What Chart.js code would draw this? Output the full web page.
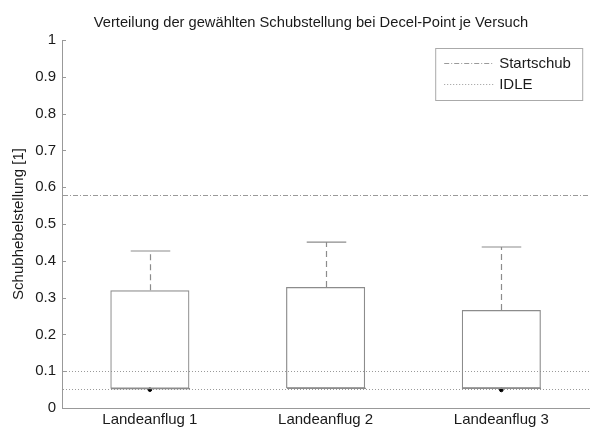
<!DOCTYPE html>
<html lang="de">
<head>
<meta charset="UTF-8">
<title>Schubstellung bei Decel-Point</title>
<script src="https://cdn.jsdelivr.net/npm/chart.js"></script>
<style>
  body { margin: 0; background: #fff; }
</style>
</head>
<body>
<canvas id="boxChart" width="592" height="428"></canvas>
<script>
// Kennwerte je Landeanflug (Schubhebelstellung, 0..1)
const versuche = ["Landeanflug 1", "Landeanflug 2", "Landeanflug 3"];
const minWert = [0.0525, 0.0534, 0.0534];
const q1 = [0.0525, 0.0534, 0.0534];
const median = [0.0525, 0.0534, 0.0534];
const q3 = [0.320, 0.329, 0.266];
const maxWert = [0.4266, 0.451, 0.4375];
const ausreisser = [[0.0497], [], [0.049]];

// Referenzlinien
const startschub = 0.578;
const idle = [0.0515, 0.1];

const titel = "Verteilung der gewählten Schubstellung bei Decel-Point je Versuch";
const yTitel = "Schubhebelstellung [1]";

const FONT = '"Liberation Sans", Arial, sans-serif';
const GRAU = "#8c8c8c";
const TEXT = "#1a1a1a";

const ausreisserPunkte = [];
ausreisser.forEach((werte, i) => werte.forEach(v => ausreisserPunkte.push({ x: versuche[i], y: v })));

// horizontale Linien für Startschub und IDLE, quer über die Achsenfläche
const referenzLinien = {
  id: "referenzLinien",
  beforeDatasetsDraw(chart) {
    const { ctx, chartArea: a, scales: { y } } = chart;
    ctx.save();
    ctx.strokeStyle = "#9a9a9a";
    ctx.lineWidth = 1;
    const linie = (v, dash) => {
      const py = Math.round(y.getPixelForValue(v)) + 0.5;
      ctx.setLineDash(dash);
      ctx.beginPath();
      ctx.moveTo(a.left + 1, py);
      ctx.lineTo(a.right, py);
      ctx.stroke();
    };
    linie(startschub, [5, 2, 1, 2]);
    idle.forEach(v => linie(v, [1, 2]));
    ctx.restore();
  }
};

// Whisker, Kappen und Median der Boxen
const boxWhisker = {
  id: "boxWhisker",
  afterDatasetsDraw(chart) {
    const { ctx, scales: { x, y } } = chart;
    const meta = chart.getDatasetMeta(0);
    ctx.save();
    ctx.strokeStyle = GRAU;
    ctx.lineWidth = 1.2;
    versuche.forEach((_, i) => {
      const px = Math.round(x.getPixelForValue(i)) + 0.5;
      const halb = meta.data[i].width / 4;
      const yMax = y.getPixelForValue(maxWert[i]);
      const yQ3 = y.getPixelForValue(q3[i]);
      const yMin = y.getPixelForValue(minWert[i]);
      const yQ1 = y.getPixelForValue(q1[i]);
      ctx.setLineDash([6, 4]);
      ctx.beginPath();
      ctx.moveTo(px, yQ3);
      ctx.lineTo(px, yMax);
      ctx.moveTo(px, yQ1);
      ctx.lineTo(px, yMin);
      ctx.stroke();
      ctx.setLineDash([]);
      ctx.beginPath();
      ctx.moveTo(px - halb, yMax);
      ctx.lineTo(px + halb, yMax);
      ctx.moveTo(px - halb, yMin);
      ctx.lineTo(px + halb, yMin);
      const yMed = y.getPixelForValue(median[i]);
      ctx.moveTo(px - 2 * halb, yMed);
      ctx.lineTo(px + 2 * halb, yMed);
      ctx.stroke();
    });
    ctx.restore();
  }
};

// nach innen zeigende Teilstriche an der y-Achse
const innenTicks = {
  id: "innenTicks",
  afterDraw(chart) {
    const { ctx, chartArea: a, scales: { y } } = chart;
    ctx.save();
    ctx.strokeStyle = "#999";
    ctx.lineWidth = 1;
    y.ticks.forEach(t => {
      const py = Math.round(y.getPixelForValue(t.value)) + 0.5;
      ctx.beginPath();
      ctx.moveTo(a.left, py);
      ctx.lineTo(a.left + 4, py);
      ctx.stroke();
    });
    ctx.restore();
  }
};

// Legende in der rechten oberen Ecke der Achsenfläche
const legendeInnen = {
  id: "legendeInnen",
  afterDraw(chart) {
    const { ctx, chartArea: a } = chart;
    const x0 = a.right - 154, y0 = a.top + 8, w = 147, h = 52;
    ctx.save();
    ctx.fillStyle = "#fff";
    ctx.fillRect(x0, y0, w, h);
    ctx.strokeStyle = "#aaa";
    ctx.lineWidth = 1;
    ctx.strokeRect(x0 + 0.5, y0 + 0.5, w, h);
    const eintraege = [["Startschub", [5, 2, 1, 2]], ["IDLE", [1, 2]]];
    eintraege.forEach(([text, dash], k) => {
      const py = Math.round(y0 + 15 + k * 21) + 0.5;
      ctx.strokeStyle = "#9a9a9a";
      ctx.setLineDash(dash);
      ctx.beginPath();
      ctx.moveTo(x0 + 9, py);
      ctx.lineTo(x0 + 59, py);
      ctx.stroke();
      ctx.setLineDash([]);
      ctx.fillStyle = TEXT;
      ctx.font = "15px " + FONT;
      ctx.textBaseline = "middle";
      ctx.fillText(text, x0 + 64, py);
    });
    ctx.restore();
  }
};

// Diagrammtitel
const titelText = {
  id: "titelText",
  afterDraw(chart) {
    const { ctx } = chart;
    ctx.save();
    ctx.fillStyle = TEXT;
    ctx.font = "14.7px " + FONT;
    ctx.textAlign = "center";
    ctx.textBaseline = "alphabetic";
    ctx.fillText(titel, 311, 27);
    ctx.restore();
  }
};

new Chart(document.getElementById("boxChart"), {
  data: {
    labels: versuche,
    datasets: [
      {
        type: "bar",
        label: "Box",
        data: q1.map((v, i) => [v, q3[i]]),
        backgroundColor: "rgba(255,255,255,0)",
        borderColor: GRAU,
        borderWidth: 1.2,
        borderSkipped: false,
        barPercentage: 0.45,
        categoryPercentage: 1
      },
      {
        type: "scatter",
        label: "Ausreißer",
        data: ausreisserPunkte,
        backgroundColor: "#000",
        borderColor: "#000",
        pointRadius: 1.8,
        pointHoverRadius: 1.8
      }
    ]
  },
  options: {
    responsive: false,
    animation: false,
    events: [],
    layout: { padding: { top: 40, right: 2, left: 0, bottom: 0 } },
    plugins: {
      legend: { display: false },
      title: { display: false },
      tooltip: { enabled: false }
    },
    scales: {
      x: {
        type: "category",
        offset: true,
        grid: { display: false, drawTicks: false, tickLength: 0 },
        border: { display: true, color: "#999", width: 1 },
        ticks: { color: TEXT, font: { family: FONT, size: 15 }, padding: 3, maxRotation: 0 },
        afterFit(s) { s.height = 20; }
      },
      y: {
        min: 0,
        max: 1,
        grid: { display: false, drawTicks: false, tickLength: 0 },
        border: { display: true, color: "#999", width: 1 },
        ticks: {
          stepSize: 0.1,
          color: TEXT,
          font: { family: FONT, size: 15 },
          padding: 6,
          callback: v => String(+v.toFixed(1))
        },
        title: {
          display: true,
          text: yTitel,
          color: TEXT,
          font: { family: FONT, size: 15 },
          padding: { top: 10, bottom: 0 }
        },
        afterFit(s) { s.width = 62; }
      }
    }
  },
  plugins: [referenzLinien, boxWhisker, innenTicks, legendeInnen, titelText]
});
</script>
</body>
</html>
